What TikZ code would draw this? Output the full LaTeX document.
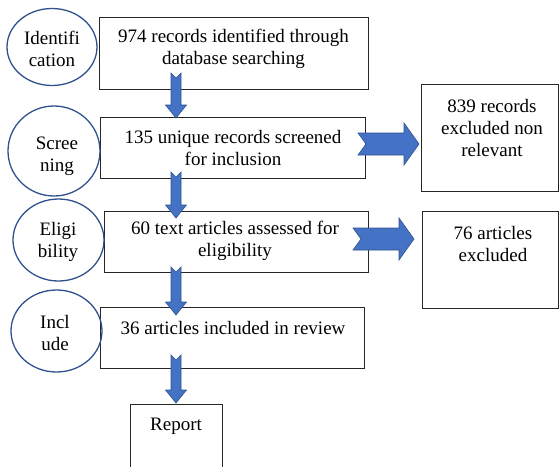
\documentclass[tikz,border=0pt]{standalone}
\usepackage{fontspec}
\setmainfont{Liberation Serif}
\usetikzlibrary{shapes.geometric}
\definecolor{arrfill}{HTML}{4472C4}
\definecolor{arrline}{HTML}{2F528F}
\newcommand\dnarrow[3]{%
  \filldraw[arr] (#1-5,#2) -- (#1,#2+5) -- (#1+5,#2) -- (#1+5,#3-13) -- (#1+10.5,#3-13) -- (#1,#3) -- (#1-10.5,#3-13) -- (#1-5,#3-13) -- cycle;}
\newcommand\rtarrow[3]{%
  \filldraw[arr] (#2,#1-11) -- (#3-15,#1-11) -- (#3-15,#1-21) -- (#3,#1) -- (#3-15,#1+21) -- (#3-15,#1+11) -- (#2,#1+11) -- (#2+8,#1) -- cycle;}
\begin{document}
\begin{tikzpicture}[x=1pt,y=-1pt,
  box/.style={draw=black!85, line width=0.8pt, inner sep=0pt},
  ell/.style={ellipse, draw=arrline, line width=1.3pt, inner sep=0pt},
  txt/.style={align=center, inner sep=0pt, font=\fontsize{19}{22}\selectfont},
  arr/.style={fill=arrfill, draw=arrline, line width=0.6pt, line join=miter}]
\useasboundingbox (0,0) rectangle (559,466);
% main boxes
\node[box, minimum width=269pt, minimum height=72pt] (b1) at (233.5,53) {};
\node[box, minimum width=265pt, minimum height=61pt] (b2) at (232.5,147.5) {};
\node[box, minimum width=264pt, minimum height=61pt] (b3) at (236,241.5) {};
\node[box, minimum width=264pt, minimum height=61pt] (b4) at (232,337.5) {};
\node[box, minimum width=137pt, minimum height=107pt] (r1) at (489.5,137.5) {};
\node[box, minimum width=136pt, minimum height=97pt] (r2) at (490,259.5) {};
\draw[black!85, line width=0.8pt] (130,470) -- (130,404) -- (222,404) -- (222,470);
% ellipses
\node[ell, minimum width=90pt, minimum height=77pt] (e1) at (52,47) {};
\node[ell, minimum width=92pt, minimum height=90pt] (e2) at (54,151) {};
\node[ell, minimum width=91pt, minimum height=82pt] (e3) at (58.5,240) {};
\node[ell, minimum width=91pt, minimum height=82pt] (e4) at (56.5,331) {};
% texts
\node[txt] (t1) at (233.5,49) {974 records identified through\\database searching};
\node[txt] (t2) at (233,147.5) {135 unique records screened\\for inclusion};
\node[txt] (t3) at (235,241) {60 text articles assessed for\\eligibility};
\node[txt] (t4) at (233,328) {36 articles included in review};
\node[txt] (t5) at (176,426) {Report};
\node[txt] (t6) at (492,127.5) {839 records\\excluded non\\relevant};
\node[txt] (t7) at (493,243.5) {76 articles\\excluded};
\node[txt] (l1) at (52,49) {Identifi\\cation};
\node[txt] (l2) at (57,156.5) {Scree\\ning};
\node[txt] (l3) at (58,242) {Eligi\\bility};
\node[txt] (l4) at (55,332.5) {Incl\\ude};
% block arrows
\dnarrow{176}{73}{118}
\dnarrow{176}{172}{218}
\dnarrow{176}{267}{315}
\dnarrow{176}{355}{403}
\rtarrow{144}{358}{419}
\rtarrow{239}{353}{414}
\end{tikzpicture}
\end{document}
